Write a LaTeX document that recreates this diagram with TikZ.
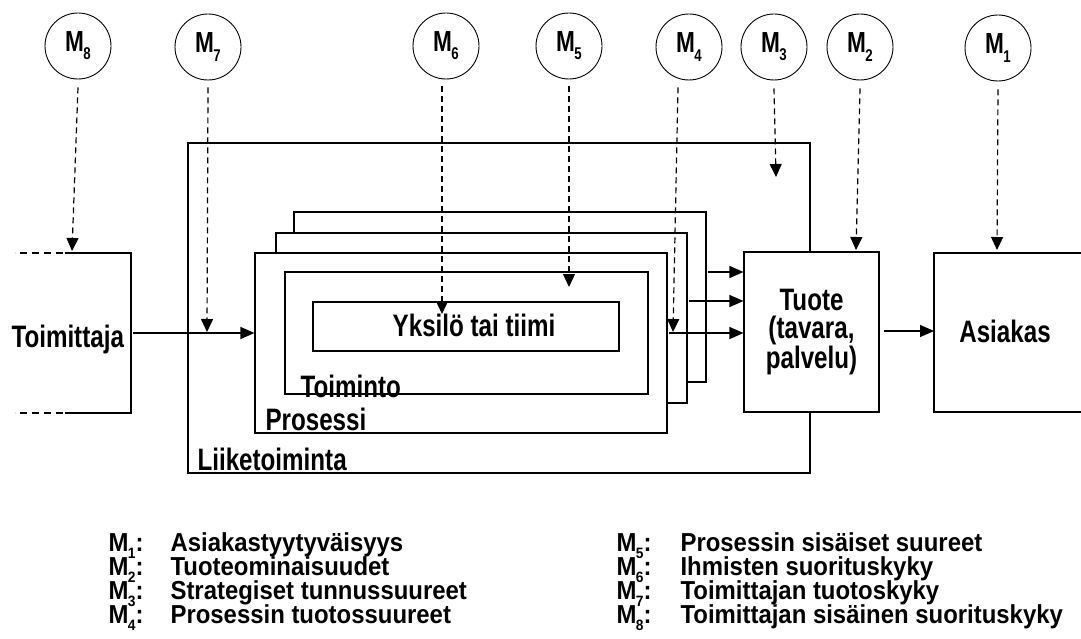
\documentclass[tikz,border=0pt]{standalone}
\usepackage{fontspec}
\setmainfont{Liberation Sans}[FakeStretch=0.78]
\newfontfamily\legfont{Liberation Sans}[FakeStretch=0.92]
\usetikzlibrary{arrows.meta}
\newcommand\Msub[2]{M\kern-0.5pt\raisebox{-0.28em}{\fontsize{#2}{#2}\selectfont #1}}
\begin{document}
\begin{tikzpicture}[x=1pt,y=-1pt,line width=1.1pt,
  font=\bfseries\fontsize{31}{28}\selectfont,
  box/.style={draw,fill=white,rectangle,inner sep=0pt},
  meas/.style={draw,circle,minimum size=66pt,inner sep=0pt,line width=0.9pt,
    font=\bfseries\fontsize{29}{29}\selectfont},
  mline/.style={line width=1.2pt,dash pattern=on 6pt off 4pt,
    -{Triangle[width=12pt,length=13pt]}},
  arr/.style={line width=1.3pt,-{Triangle[width=12pt,length=14pt]}},
  lbl/.style={inner sep=0pt,anchor=base west},
  leg/.style={inner sep=0pt,anchor=base west,text height=18pt,text depth=2pt,
    font=\legfont\bfseries\fontsize{26}{26}\selectfont}]
\useasboundingbox (0,0) rectangle (1081,639);

% Liiketoiminta
\node[box,minimum width=622pt,minimum height=330pt] (liike) at (499,308) {};
\node[lbl] (liikelbl) at (197,470) {Liiketoiminta};

% stacked process boxes
\node[box,minimum width=412pt,minimum height=170pt] (back3) at (500,297) {};
\node[box,minimum width=411pt,minimum height=170pt] (back2) at (481.5,318) {};
\node[box,minimum width=412pt,minimum height=180pt] (pros) at (461,343) {};
\node[lbl] (proslbl) at (265,430) {Prosessi};
\node[box,minimum width=363pt,minimum height=122pt] (toim2) at (466.5,333) {};
\node[lbl] (toimlbl) at (300,397) {Toiminto};
\node[box,minimum width=306pt,minimum height=49pt] (yks) at (466,326.5) {};
\node[inner sep=0pt,anchor=base] (ykslbl) at (474,336) {Yksil\"o tai tiimi};

% Tuote
\node[box,minimum width=135pt,minimum height=160pt,align=center] (tuote) at (811.5,332) {Tuote\\(tavara,\\palvelu)};

% Toimittaja (open box)
\draw (65,253) -- (131,253) -- (131,413) -- (65,413);
\draw[dash pattern=on 7pt off 5pt] (63,253) -- (15,253);
\draw[dash pattern=on 7pt off 5pt] (63,413) -- (15,413);
\node[lbl] (toim) at (11,347) {Toimittaja};

% Asiakas (open box, cut at right edge)
\draw (1081,253) -- (934,253) -- (934,412) -- (1081,412);
\node[inner sep=0pt,anchor=base] (asi) at (1005,342) {Asiakas};

% measurement circles
\node[meas] (m8) at (78,46) {\Msub{8}{17}};
\node[meas] (m7) at (208,47) {\Msub{7}{17}};
\node[meas] (m6) at (446,46) {\Msub{6}{17}};
\node[meas] (m5) at (569,46) {\Msub{5}{17}};
\node[meas] (m4) at (689,47) {\Msub{4}{17}};
\node[meas] (m3) at (774,47) {\Msub{3}{17}};
\node[meas] (m2) at (860,47) {\Msub{2}{17}};
\node[meas] (m1) at (998,48) {\Msub{1}{17}};

% connector end points
\coordinate (t8) at (72,251);
\coordinate (t7) at (207,332);
\coordinate (t6) at (442,314);
\coordinate (t5) at (569,287);
\coordinate (t4) at (673,332);
\coordinate (t3) at (776,177);
\coordinate (t2) at (856,250);
\coordinate (t1) at (997,250);
\coordinate (toimR) at (133,333);
\coordinate (o3) at (708,272);
\coordinate (o2) at (689,301);
\coordinate (o1) at (669,333);
\coordinate (asiL) at (934,331);

% dashed measurement arrows
\draw[mline] ([yshift=-8pt]m8.south) -- (t8);
\draw[mline] ([yshift=-7pt]m7.south) -- (t7);
\draw[mline] ([xshift=-4pt,yshift=-7pt]m6.south) -- (t6);
\draw[mline] ([yshift=-7pt]m5.south) -- (t5);
\draw[mline] ([xshift=-11pt,yshift=-7pt]m4.south) -- (t4);
\draw[mline] ([yshift=-8pt]m3.south) -- (t3);
\draw[mline] ([yshift=-8pt]m2.south) -- (t2);
\draw[mline] ([yshift=-8pt]m1.south) -- (t1);

% solid flow arrows
\draw[arr] (toimR) -- (pros.west |- toimR);
\draw[arr] (o3) -- (tuote.west |- o3);
\draw[arr] (o2) -- (tuote.west |- o2);
\draw[arr] (o1) -- (tuote.west |- o1);
\draw[arr] ([xshift=4pt]tuote.east |- asiL) -- (asiL);

% legend
\node[leg] (l1) at (108,551) {\Msub{1}{15}:};
\node[leg] (l2) at (108,575) {\Msub{2}{15}:};
\node[leg] (l3) at (108,599) {\Msub{3}{15}:};
\node[leg] (l4) at (108,623) {\Msub{4}{15}:};
\node[leg] (d1) at (170,551) {Asiakastyytyv\"aisyys};
\node[leg] (d2) at (170,575) {Tuoteominaisuudet};
\node[leg] (d3) at (170,599) {Strategiset tunnussuureet};
\node[leg] (d4) at (170,623) {Prosessin tuotossuureet};
\node[leg] (l5) at (616,551) {\Msub{5}{15}:};
\node[leg] (l6) at (616,575) {\Msub{6}{15}:};
\node[leg] (l7) at (616,599) {\Msub{7}{15}:};
\node[leg] (l8) at (616,623) {\Msub{8}{15}:};
\node[leg] (d5) at (680,551) {Prosessin sis\"aiset suureet};
\node[leg] (d6) at (680,575) {Ihmisten suorituskyky};
\node[leg] (d7) at (680,599) {Toimittajan tuotoskyky};
\node[leg] (d8) at (680,623) {Toimittajan sis\"ainen suorituskyky};
\end{tikzpicture}
\end{document}
